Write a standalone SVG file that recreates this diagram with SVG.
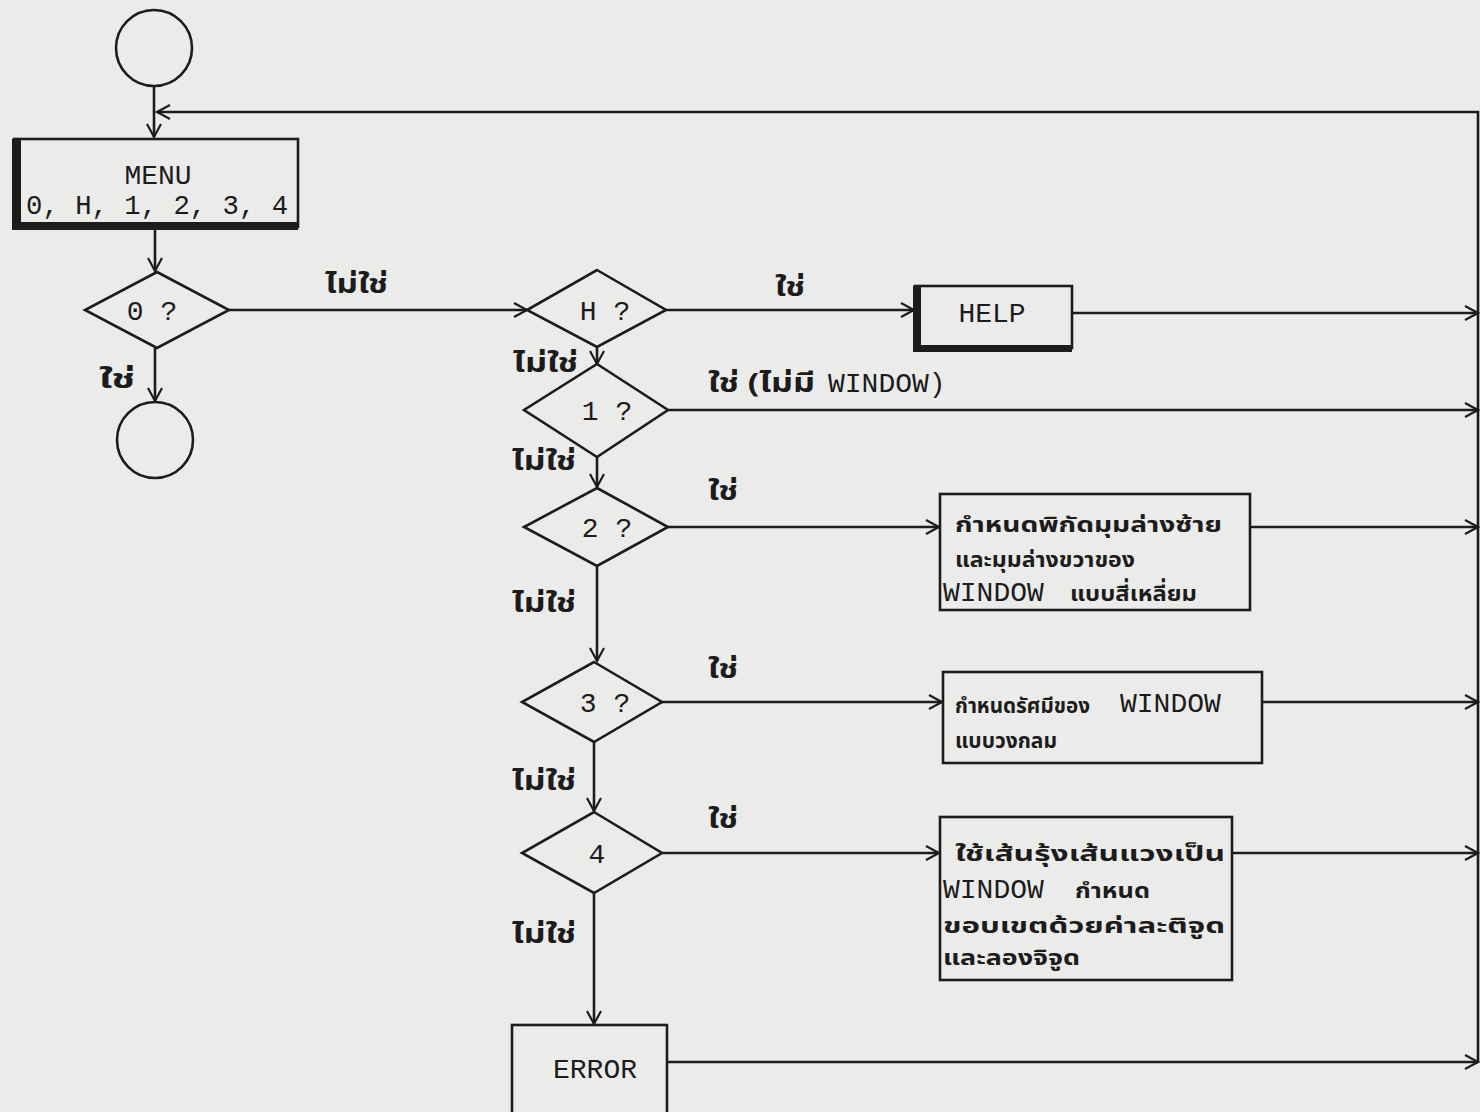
<svg xmlns="http://www.w3.org/2000/svg" width="1480" height="1112" viewBox="0 0 1480 1112">
<defs>
<marker id="arr" markerUnits="userSpaceOnUse" markerWidth="20" markerHeight="20" refX="14" refY="8" orient="auto">
<path d="M1,1 L14,8 L1,15" fill="none" stroke="#1c1c1c" stroke-width="2.2"/>
</marker>
<style>
.ln{stroke:#1c1c1c;stroke-width:2.6;fill:none}
.cn{stroke:#1c1c1c;stroke-width:2.6;fill:none;marker-end:url(#arr)}
.lt{font-family:"Liberation Mono","DejaVu Sans Mono",monospace;font-size:28px;fill:#1c1c1c}
.th{font-family:"Noto Sans Thai","Noto Serif Thai","Loma","Garuda","Tlwg Typo","DejaVu Sans",sans-serif;font-size:26px;font-weight:bold;fill:#1c1c1c}
.tb{font-family:"Noto Sans Thai","Noto Serif Thai","Loma","Garuda","Tlwg Typo","DejaVu Sans",sans-serif;font-size:22px;font-weight:bold;fill:#1c1c1c}
</style>
</defs>
<rect width="1480" height="1112" fill="#ebebea"/>

<g id="connectors">
<line class="cn" x1="154" y1="86" x2="154" y2="137"/>
<polyline class="cn" points="1478,1062 1478,112 157,112"/>
<line class="cn" x1="155" y1="230" x2="155" y2="271"/>
<line class="cn" x1="229" y1="310" x2="527" y2="310"/>
<line class="cn" x1="155" y1="348" x2="155" y2="401"/>
<line class="cn" x1="666" y1="310" x2="914" y2="310"/>
<line class="cn" x1="1072" y1="313" x2="1478" y2="313"/>
<line class="cn" x1="597" y1="347" x2="597" y2="364"/>
<line class="cn" x1="668" y1="410" x2="1478" y2="410"/>
<line class="cn" x1="597" y1="457" x2="597" y2="487"/>
<line class="cn" x1="668" y1="527" x2="939" y2="527"/>
<line class="cn" x1="1250" y1="527" x2="1478" y2="527"/>
<line class="cn" x1="597" y1="566" x2="597" y2="661"/>
<line class="cn" x1="662" y1="702" x2="942" y2="702"/>
<line class="cn" x1="1262" y1="702" x2="1478" y2="702"/>
<line class="cn" x1="594" y1="742" x2="594" y2="811"/>
<line class="cn" x1="662" y1="853" x2="939" y2="853"/>
<line class="cn" x1="1232" y1="853" x2="1478" y2="853"/>
<line class="cn" x1="594" y1="893" x2="594" y2="1024"/>
<line class="cn" x1="667" y1="1062" x2="1478" y2="1062"/>
</g>

<g id="labels">
<text class="th" x="325" y="293" textLength="63" lengthAdjust="spacingAndGlyphs">ไม่ใช่</text>
<text class="th" x="99" y="388" textLength="36" lengthAdjust="spacingAndGlyphs">ใช่</text>
<text class="th" x="775" y="296" textLength="30" lengthAdjust="spacingAndGlyphs">ใช่</text>
<text class="th" x="513" y="372" textLength="65" lengthAdjust="spacingAndGlyphs">ไม่ใช่</text>
<text class="th" x="708" y="392" textLength="107" lengthAdjust="spacingAndGlyphs">ใช่ (ไม่มี</text>
<text class="lt" x="828" y="392">WINDOW)</text>
<text class="th" x="512" y="470" textLength="64" lengthAdjust="spacingAndGlyphs">ไม่ใช่</text>
<text class="th" x="708" y="500" textLength="30" lengthAdjust="spacingAndGlyphs">ใช่</text>
<text class="th" x="512" y="612" textLength="64" lengthAdjust="spacingAndGlyphs">ไม่ใช่</text>
<text class="th" x="708" y="678" textLength="30" lengthAdjust="spacingAndGlyphs">ใช่</text>
<text class="th" x="512" y="790" textLength="64" lengthAdjust="spacingAndGlyphs">ไม่ใช่</text>
<text class="th" x="708" y="828" textLength="30" lengthAdjust="spacingAndGlyphs">ใช่</text>
<text class="th" x="512" y="943" textLength="64" lengthAdjust="spacingAndGlyphs">ไม่ใช่</text>
</g>

<g id="start">
<circle class="ln" cx="154" cy="48" r="38"/>
</g>

<g id="menu">
<rect class="ln" x="14" y="139" width="284" height="88"/>
<rect x="12" y="139" width="9" height="91" fill="#1c1c1c"/>
<rect x="12" y="222" width="286" height="8" fill="#1c1c1c"/>
<text class="lt" x="158" y="184" text-anchor="middle">MENU</text>
<text class="lt" x="157" y="214" text-anchor="middle" textLength="262" lengthAdjust="spacingAndGlyphs">0, H, 1, 2, 3, 4</text>
</g>

<g id="d0">
<polygon class="ln" points="157,272 229,310 157,348 85,310"/>
<text class="lt" x="152" y="320" text-anchor="middle">0 ?</text>
</g>

<g id="end">
<circle class="ln" cx="155" cy="440" r="38"/>
</g>

<g id="dH">
<polygon class="ln" points="597,270 666,310 597,347 527,310"/>
<text class="lt" x="605" y="320" text-anchor="middle">H ?</text>
</g>

<g id="help">
<rect class="ln" x="915" y="286" width="157" height="62"/>
<rect x="913" y="286" width="8" height="66" fill="#1c1c1c"/>
<rect x="913" y="345" width="159" height="7" fill="#1c1c1c"/>
<text class="lt" x="992" y="322" text-anchor="middle">HELP</text>
</g>

<g id="d1">
<polygon class="ln" points="597,364 668,410 597,457 524,410"/>
<text class="lt" x="607" y="420" text-anchor="middle">1 ?</text>
</g>

<g id="d2">
<polygon class="ln" points="597,488 668,527 597,566 524,527"/>
<text class="lt" x="607" y="537" text-anchor="middle">2 ?</text>
</g>

<g id="box2">
<rect class="ln" x="940" y="494" width="310" height="116"/>
<text class="tb" x="955" y="532" textLength="267" lengthAdjust="spacingAndGlyphs">กำหนดพิกัดมุมล่างซ้าย</text>
<text class="tb" x="955" y="567" textLength="180" lengthAdjust="spacingAndGlyphs">และมุมล่างขวาของ</text>
<text class="lt" x="943" y="601">WINDOW</text>
<text class="tb" x="1070" y="601" textLength="127" lengthAdjust="spacingAndGlyphs">แบบสี่เหลี่ยม</text>
</g>

<g id="d3">
<polygon class="ln" points="594,662 662,702 594,742 522,702"/>
<text class="lt" x="605" y="712" text-anchor="middle">3 ?</text>
</g>

<g id="box3">
<rect class="ln" x="943" y="672" width="319" height="91"/>
<text class="tb" x="955" y="713" textLength="135" lengthAdjust="spacingAndGlyphs">กำหนดรัศมีของ</text>
<text class="lt" x="1120" y="712">WINDOW</text>
<text class="tb" x="955" y="748" textLength="102" lengthAdjust="spacingAndGlyphs">แบบวงกลม</text>
</g>

<g id="d4">
<polygon class="ln" points="594,812 662,853 594,893 522,853"/>
<text class="lt" x="597" y="863" text-anchor="middle">4</text>
</g>

<g id="box4">
<rect class="ln" x="940" y="817" width="292" height="163"/>
<text class="tb" x="955" y="861" textLength="270" lengthAdjust="spacingAndGlyphs">ใช้เส้นรุ้งเส้นแวงเป็น</text>
<text class="lt" x="943" y="898">WINDOW</text>
<text class="tb" x="1075" y="898" textLength="75" lengthAdjust="spacingAndGlyphs">กำหนด</text>
<text class="tb" x="943" y="933" textLength="282" lengthAdjust="spacingAndGlyphs">ขอบเขตด้วยค่าละติจูด</text>
<text class="tb" x="943" y="965" textLength="137" lengthAdjust="spacingAndGlyphs">และลองจิจูด</text>
</g>

<g id="error">
<rect class="ln" x="512" y="1025" width="155" height="100"/>
<text class="lt" x="595" y="1078" text-anchor="middle">ERROR</text>
</g>
</svg>
